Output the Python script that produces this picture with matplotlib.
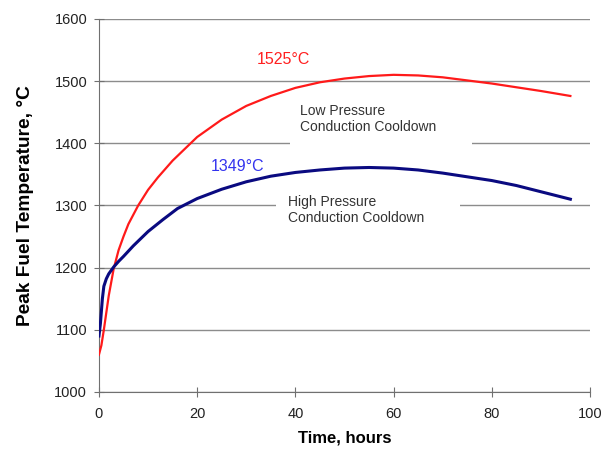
import matplotlib.pyplot as plt
from matplotlib.patches import Rectangle

plt.rcParams['font.family'] = ['Liberation Sans', 'DejaVu Sans']

# Low pressure conduction cooldown (red)
lp_time = [0, 0.5, 1, 2, 3, 4, 5, 6, 8, 10, 12, 15, 20, 25, 30, 35, 40, 45, 50,
           55, 60, 65, 70, 75, 80, 85, 90, 96]
lp_temp = [1060, 1075, 1100, 1155, 1198, 1228, 1250, 1270, 1300, 1325, 1345,
           1372, 1410, 1438, 1460, 1476, 1489, 1498, 1504, 1508, 1510, 1509,
           1506, 1501, 1496, 1490, 1484, 1476]

# High pressure conduction cooldown (blue)
hp_time = [0, 0.3, 0.7, 1, 1.5, 2, 3, 4, 5, 7, 10, 13, 16, 20, 25, 30, 35, 40,
           45, 50, 55, 60, 65, 70, 75, 80, 85, 90, 96]
hp_temp = [1090, 1110, 1150, 1170, 1182, 1190, 1201, 1210, 1218, 1235, 1258,
           1277, 1295, 1311, 1326, 1338, 1347, 1353, 1357, 1360, 1361, 1360,
           1357, 1352, 1346, 1340, 1332, 1322, 1310]

fig = plt.figure(figsize=(6.07, 4.49), dpi=100)
ax = fig.add_axes([0.163, 0.127, 0.809, 0.831])

ax.set_xlim(0, 100)
ax.set_ylim(1000, 1600)
ax.set_xticks(range(0, 101, 20))
ax.set_yticks(range(1000, 1601, 100))
ax.yaxis.grid(True, color='#8c8c8c', linewidth=1.0, zorder=0)
ax.set_axisbelow(True)

for s in ['top', 'right']:
    ax.spines[s].set_visible(False)
for s in ['left', 'bottom']:
    ax.spines[s].set_color('#707070')
ax.tick_params(direction='inout', length=7, color='#707070',
               labelsize=10.5, labelcolor='#222222')
ax.tick_params(axis='x', pad=7)
ax.tick_params(axis='y', pad=5)

# white boxes behind the annotations (break the gridlines)
ax.add_patch(Rectangle((39, 1392), 37, 75, facecolor='white', edgecolor='none', zorder=1.5))
ax.add_patch(Rectangle((36, 1272), 37.5, 48, facecolor='white', edgecolor='none', zorder=1.5))

ax.plot(lp_time, lp_temp, color='#ff1a1a', linewidth=1.6, zorder=3)
ax.plot(hp_time, hp_temp, color='#0a0a80', linewidth=2.2, zorder=3)

ax.text(37.5, 1534, '1525°C', color='#ff2020', fontsize=11.5, ha='center', va='center')
ax.text(28.3, 1362, '1349°C', color='#3333ee', fontsize=11.5, ha='center', va='center')
ax.text(41, 1439, 'Low Pressure\nConduction Cooldown', color='#333333',
        fontsize=10, ha='left', va='center', zorder=4, linespacing=1.15)
ax.text(38.5, 1293, 'High Pressure\nConduction Cooldown', color='#333333',
        fontsize=10, ha='left', va='center', zorder=4, linespacing=1.15)

ax.set_xlabel('Time, hours', fontsize=12, fontweight='bold', labelpad=7)
ax.set_ylabel('Peak Fuel Temperature, °C', fontsize=13.8, fontweight='bold')
ax.yaxis.set_label_coords(-0.133, 0.5)

fig.savefig('out.png', dpi=100)
